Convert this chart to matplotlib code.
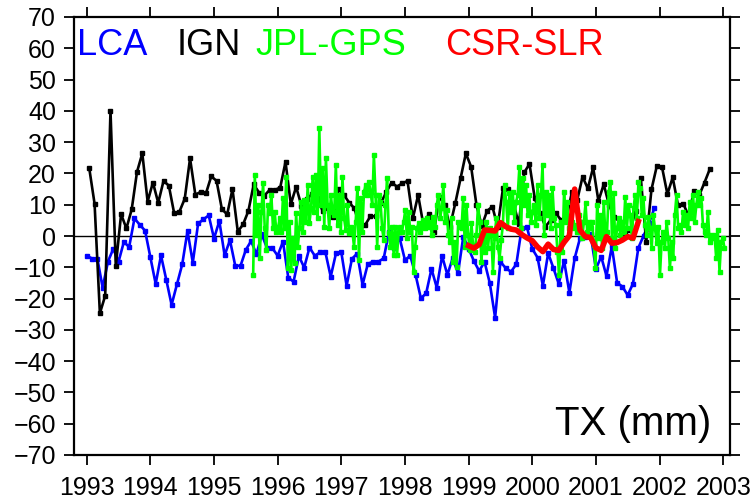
import numpy as np
import matplotlib
matplotlib.use("Agg")
import matplotlib.pyplot as plt

plt.rcParams["font.family"] = ["Liberation Sans", "DejaVu Sans"]

# LCA, monthly from 1993.0
lca_start = 1993.0
lca = [-6.3, -7.2, -7.2, -16.5, -8.2, -4.1, -8.2, -1.9, -3.5, 5.6, 3.6, 1.7,
       -6.8, -15.3, -6.2, -14.0, -22.0, -15.5, -9.1, 1.6, -8.5, 4.0, 5.3, 6.6,
       -0.8, 4.8, -6.2, -1.3, -9.5, -9.5, -4.4, -1.6, -5.9, 0.5, -3.9, -3.9,
       -6.3, -1.8, -13.3, -14.6, -6.4, -10.1, -3.7, -6.3, -5.2, -5.2, -13.0, -5.5,
       -5.2, -15.9, -7.3, -5.6, -15.6, -8.9, -8.2, -8.2, -7.1, 1.4, -3.7, -0.7,
       -7.7, -6.3, -12.4, -19.9, -18.3, -10.5, -16.5, -6.4, -12.4, -7.1, -11.9, -0.2,
       -4.0, -8.0, -11.2, -8.2, -15.1, -26.1, -8.2, -10.3, -11.4, -9.0, 2.4, 2.9,
       -4.1, -6.9, -15.9, -5.5, -10.3, -15.3, -7.9, -18.1, -7.1, -0.7, -0.2, 0.5,
       -10.5, -6.6, -12.8, -3.3, -14.9, -16.2, -18.9, -15.2, -3.8, 0.1, 4.0, 8.8]

# IGN, monthly from 1993.04
ign_start = 1993.04
ign = [21.6, 10.3, -24.7, -19.1, 40.0, -9.6, 7.0, 2.4, 8.5, 20.5, 26.4, 11.0,
       17.1, 10.6, 17.6, 16.1, 7.3, 7.8, 11.9, 24.8, 13.2, 14.1, 13.6, 19.1,
       17.6, 8.6, 6.9, 15.0, 1.4, 3.7, 8.0, 16.5, 13.9, 12.9, 14.7, 14.7,
       15.5, 23.7, 10.2, 15.7, 9.7, 11.8, 13.4, 12.0, 8.0, 9.0, 6.0, 15.0,
       13.1, 10.7, 8.8, 2.8, 3.5, 6.3, 6.3, 10.7, 14.0, 17.1, 15.8, 16.8,
       17.6, 5.6, 13.1, 3.5, 6.9, 1.4, 12.6, 9.9, 3.0, 10.4, 18.4, 26.4,
       22.1, 9.9, 3.2, 8.0, 9.4, 3.0, 15.2, 14.9, 10.4, 3.7, 20.3, 23.0,
       12.0, 7.2, 3.0, 5.1, 7.2, 5.0, 5.9, 14.1, 11.5, 18.9, 15.2, 21.9,
       11.2, 16.5, 9.9, 6.0, 4.6, 0.9, 1.9, 8.0, 18.4, -2.0, 14.9, 22.3,
       21.9, 13.4, 18.7, 9.9, 10.3, 6.4, 14.5, 13.0, 17.1, 21.4]

# JPL-GPS, evenly sampled between these dates
gps_start, gps_end = 1995.615, 2003.02
gps = [-12.4, 19.5, 0.3, 9.9, -6.9, 7.8, 16.8, 2.4, -4.5, 9.9, 7.2, 13.1,
       2.4, 7.8, 1.4, 2.4, 5.6, 1.4, 12.0, 2.4, 18.9, -10.3, 4.6, -10.9,
       -0.7, -8.7, 7.2, -3.4, 2.4, 11.0, 1.4, 11.5, 4.6, 16.3, 4.0, 8.8,
       18.9, 7.8, 19.5, 5.6, 34.4, 9.9, 21.6, 3.0, 24.8, 9.9, 2.4, 13.1,
       7.8, 6.7,
       22.7, 3.5, 13.1, 1.4, 18.9, 5.6, 1.9, 9.9, 0.9, 3.0, 1.4, -3.4,
       4.6, 15.2, -7.7, 12.0, 1.4, 14.1, 16.3, 13.1, 17.3, 14.1, 9.9, 25.9,
       13.1, -3.4, 13.1, 11.0, 2.4, -1.3, 9.9, 18.4, 0.9, -3.4, 3.0, -6.1,
       3.0, -6.1, 1.4, 3.0, 1.4, 4.6, 8.3, -0.7, 7.8, 1.4, 3.0, -11.4,
       -3.4, 2.4, 4.0, 1.4, 3.0, 5.1, 2.4, 5.6, 3.0, 4.6, 0.3, 6.2,
       3.0, 9.9, 13.1, 5.6, 8.8, 16.3, 4.6, 8.3, 0.3, -1.8, 5.6, -8.2,
       -1.8, -9.8, 4.6, 3.0, 2.4, 12.0, -3.4,
       9.9, 0.3, -4.5, 4.0, -3.4, -5.0, 0.3, 9.9, 4.6, -8.2, -0.7, -5.0,
       4.6, -3.9, 2.4, 0.3, -11.4, -0.7, 5.6, -3.4, -7.1, -1.3, 3.5, 16.3,
       11.0, 2.4, 13.6, 7.8, 14.1, 4.6, 11.0, 13.1, 22.1, 2.4, 18.4, 9.9,
       16.3, 6.7, 13.1, 4.6, 7.8, 9.9, 3.5, 16.3, 5.6, 13.1, 22.7, 0.3,
       14.1, 6.7, 13.1, 2.4, 15.2, 5.6, 3.5, -5.0, -12.4, 4.6, -5.0, 14.1,
       4.6, 11.0, 2.4, 4.0, 4.6, 2.4, 3.5, 1.4, 6.7, 4.6, -0.7, 4.6,
       10.4, 1.4, 4.6, 2.4, 4.6, -2.9,
       -10.3, 9.9, -0.7, 6.7, -3.9, 11.0, 0.3, 1.4, 14.1, 17.3, -0.7, 13.6,
       -3.9, 2.4, 5.6, 0.3, 4.6, 1.4, 12.6, 2.4, 9.9, 6.7, -0.7, 8.8,
       13.1, 5.6, 17.3, 15.2, 6.7, 12.0, 3.5, 0.3, 6.2, 2.4, -3.9, 6.7,
       2.4, -2.3, 3.0, -12.4, -1.8, 1.4, -3.9, 4.6, -0.7, -10.3, -1.8, -7.1,
       6.7, 13.1, 2.4, 3.5, 1.4, 7.8, 3.5, 6.7, 2.4, 11.0, 5.6, 13.1,
       4.6, 9.9, 14.1, 9.9, 12.0, 3.5, 1.4, 0.3, 7.8, -1.8, 0.3, -0.7,
       0.3, -7.1, 1.9, -11.4, -1.8, -0.7, -3.9]

# CSR-SLR, monthly from 1999.0
slr_start = 1999.0
slr = [-3.1, -3.9, -2.7, 1.9, 1.8, 1.6, 4.3, 3.0, 2.2, 1.9, 0.5, -0.6,
       -1.5, -3.5, -5.0, -2.6, -4.3, -4.6, -2.0, 0.1, 15.0, 1.9, -0.2, -0.5,
       -3.8, -4.6, -0.2, -2.3, -2.1, -1.3, -0.2, -0.7, 4.6]

lca_t = lca_start + np.arange(len(lca)) / 12
ign_t = ign_start + np.arange(len(ign)) / 12
gps_t = np.linspace(gps_start, gps_end, len(gps))
slr_t = slr_start + np.arange(len(slr)) / 12

fig = plt.figure(figsize=(7.56, 5.01), dpi=100)
ax = fig.add_axes([74 / 756, 1 - 455 / 501, 656 / 756, 438 / 501])

ax.axhline(0, color="black", lw=1.0, zorder=1)
ax.plot(lca_t, lca, color="#0000ff", lw=1.9, marker="s", ms=2.6, zorder=2)
ax.plot(ign_t, ign, color="black", lw=1.9, marker="s", ms=2.6, zorder=2)
ax.plot(gps_t, gps, color="#00ff00", lw=1.9, marker="s", ms=2.6, zorder=3)
ax.plot(slr_t, slr, color="#ff0000", lw=4.0, zorder=4)

ax.set_xlim(1992.80, 2003.107)
ax.set_ylim(-70, 70)
ax.set_xticks(range(1993, 2004))
ax.set_yticks(range(-70, 71, 10))
ax.tick_params(direction="out", length=7, width=1.3, labelsize=18,
               top=True, right=True)
ax.tick_params(axis="y", pad=6)
ax.tick_params(axis="x", pad=8)
for s in ax.spines.values():
    s.set_linewidth(1.6)

ax.text(1992.84, 61, "LCA", color="#0000ff", fontsize=26, va="center")
ax.text(1994.41, 61, "IGN", color="black", fontsize=26, va="center")
ax.text(1995.65, 61, "JPL-GPS", color="#00ff00", fontsize=26, va="center")
ax.text(1998.63, 61, "CSR-SLR", color="#ff0000", fontsize=26, va="center")
ax.text(2002.82, -60, "TX (mm)", color="black", fontsize=29,
        ha="right", va="center")

fig.savefig("out.png", dpi=100)
